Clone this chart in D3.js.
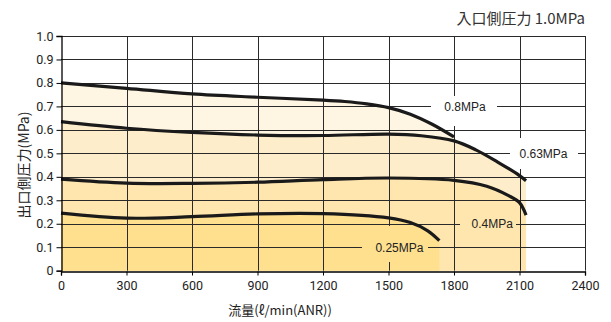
<!DOCTYPE html>
<html><head><meta charset="utf-8">
<script src="https://cdn.jsdelivr.net/npm/d3@7"></script>
<style>html,body{margin:0;padding:0;background:#fff;}svg{display:block;}</style>
</head><body>
<script>
// ---- data ----
const xTicks = [0,300,600,900,1200,1500,1800,2100,2400];
const yTicks = [0,0.1,0.2,0.3,0.4,0.5,0.6,0.7,0.8,0.9,1.0];
const yTickLabels = ["0","0.1","0.2","0.3","0.4","0.5","0.6","0.7","0.8","0.9","1.0"];
const seriesNames = ["0.8MPa","0.63MPa","0.4MPa","0.25MPa"];
const flow08  = [0,300,600,900,1200,1300,1400,1500,1600,1700,1800];
const press08 = [0.80,0.777,0.753,0.739,0.727,0.721,0.711,0.695,0.667,0.624,0.570];
const flow063  = [0,300,600,900,1200,1500,1650,1800,1900,2000,2100,2130];
const press063 = [0.635,0.607,0.589,0.578,0.576,0.582,0.575,0.553,0.515,0.463,0.405,0.383];
const flow04  = [0,300,600,900,1200,1500,1800,1950,2050,2100,2130];
const press04 = [0.390,0.373,0.372,0.377,0.388,0.395,0.385,0.360,0.320,0.290,0.237];
const flow025  = [0,300,600,900,1200,1500,1600,1680,1733];
const press025 = [0.245,0.224,0.230,0.242,0.243,0.225,0.205,0.170,0.128];
const labelFlow  = [1850,2210,1975,1550];
const labelPress = [0.7,0.5,0.2,0.1];
const fillColors = ["#fef5e2","#feedcb","#fee6ae","#fee08f"];
const titleRight = "入口側圧力 1.0MPa";
const xTitle = "流量(ℓ/min(ANR))";
const yTitle = "出口側圧力(MPa)";

const W = 611, H = 322;
const svg = d3.select("body").append("svg").attr("width", W).attr("height", H);
const x = d3.scaleLinear().domain([0,2400]).range([61,585]);
const y = d3.scaleLinear().domain([0,1]).range([270.7,36]);

const series = [[flow08,press08],[flow063,press063],[flow04,press04],[flow025,press025]]
  .map(([f,p]) => f.map((v,i)=>[v,p[i]]));
const curve = d3.curveCatmullRom.alpha(0.5);

// fills
const area = d3.area().x(d=>x(d[0])).y0(y(0)).y1(d=>y(d[1])).curve(curve);
series.forEach((s,i)=>{
  svg.append("path").attr("d", area(s)).attr("fill", fillColors[i]);
});

// mask for grid gaps under labels
const defs = svg.append("defs");
const mask = defs.append("mask").attr("id","gridmask");
mask.append("rect").attr("x",0).attr("y",0).attr("width",W).attr("height",H).attr("fill","#fff");
const holes = [[431,497,96,126],[510,578,138,169],[460,516,212,236],[362,428,226,262]];
holes.forEach(h=>mask.append("rect").attr("x",h[0]).attr("y",h[2]).attr("width",h[1]-h[0]).attr("height",h[3]-h[2]).attr("fill","#000"));

const grid = svg.append("g").attr("mask","url(#gridmask)").attr("stroke","#2a2a2a").attr("stroke-width",1);
xTicks.slice(1).forEach(t=>{
  grid.append("line").attr("x1",Math.round(x(t))+0.5).attr("x2",Math.round(x(t))+0.5).attr("y1",y(1)).attr("y2",y(0));
});
yTicks.slice(1).forEach(t=>{
  grid.append("line").attr("y1",Math.round(y(t))+0.5).attr("y2",Math.round(y(t))+0.5).attr("x1",x(0)).attr("x2",x(2400));
});

// curves
const line = d3.line().x(d=>x(d[0])).y(d=>y(d[1])).curve(curve);
series.forEach(s=>{
  svg.append("path").attr("d", line(s)).attr("fill","none").attr("stroke","#1a1a1a").attr("stroke-width",3.2);
});

// labels
seriesNames.forEach((n,i)=>{
  svg.append("text").attr("x",x(labelFlow[i])).attr("y",y(labelPress[i])+4.5)
    .attr("text-anchor","middle").attr("font-family","Liberation Sans").attr("font-size",12)
    .attr("fill","#222").text(n);
});

// axes
const xAxis = d3.axisBottom(x).tickValues(xTicks).tickSize(4).tickFormat(d3.format("d"));
const gx = svg.append("g").attr("transform",`translate(0,${Math.round(y(0))+0.5})`).call(xAxis);
gx.select(".domain").attr("stroke","#000").attr("stroke-width",1.3);
gx.selectAll("text").attr("font-family","Roboto").attr("font-size",12.5).attr("fill","#222").attr("dy","0.9em");
const yAxis = d3.axisLeft(y).tickValues(yTicks).tickSize(5).tickFormat((d,i)=>yTickLabels[i]);
const gy = svg.append("g").attr("transform",`translate(${Math.round(x(0))+0.5},0)`).call(yAxis);
gy.select(".domain").attr("stroke","#000").attr("stroke-width",1.3);
gy.selectAll("text").attr("font-family","Roboto").attr("font-size",12.5).attr("fill","#222").attr("x",-8);

// titles
svg.append("text").attr("x",585).attr("y",24).attr("text-anchor","end").attr("font-family","Noto Sans CJK JP")
  .attr("font-size",15).attr("fill","#333").text(titleRight);
svg.append("text").attr("x",280).attr("y",315).attr("text-anchor","middle").attr("font-family","Noto Sans CJK JP")
  .attr("font-size",13).attr("fill","#222").text(xTitle);
svg.append("text").attr("transform","translate(29,165) rotate(-90)").attr("text-anchor","middle")
  .attr("font-family","Noto Sans CJK JP").attr("font-size",14).attr("fill","#222").text(yTitle);
</script>
</body></html>
